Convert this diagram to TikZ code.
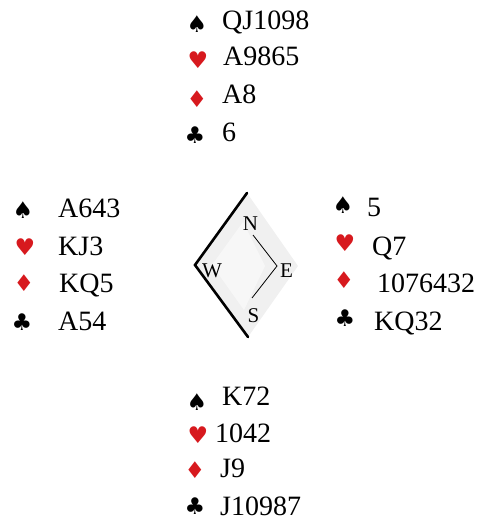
\documentclass[tikz,border=0pt]{standalone}
\usepackage{fontspec}
\setmainfont{Liberation Serif}
\newfontfamily\suitfont{DejaVu Sans}
\definecolor{suitred}{RGB}{215,25,30}
\begin{document}
\begin{tikzpicture}[x=1pt,y=-1pt,
  card/.style={anchor=base west,inner sep=0pt,font=\fontsize{28}{30}\selectfont},
  suit/.style={anchor=center,inner sep=0pt,font=\suitfont\fontsize{23}{24}\selectfont},
  blacksuit/.style={suit,text=black},
  redsuit/.style={suit,text=suitred},
  compassletter/.style={anchor=base,inner sep=0pt,font=\fontsize{21}{22}\selectfont},
  thickedge/.style={line width=2.6pt,line cap=round,line join=miter},
  thinedge/.style={line width=0.8pt}]
\useasboundingbox (0,0) rectangle (485,521);
% compass
\coordinate (otop) at (247,193);
\coordinate (oleft) at (195,265);
\coordinate (obot) at (248,337);
\coordinate (oright) at (298,266);
\coordinate (itop) at (253,235);
\coordinate (iright) at (277,266);
\coordinate (ibot) at (252,298);
\fill[black!6] (otop) -- (oleft) -- (obot) -- (oright) -- cycle;
\fill[white,opacity=0.5] (243,222) -- (212,265) -- (244,310) -- (265,266) -- cycle;
\draw[thickedge] (otop) -- (oleft) -- (obot);
\draw[thinedge] (itop) -- (iright) -- (ibot);
\node[compassletter] (cn) at (250.5,230) {N};
\node[compassletter] (ce) at (286.5,277) {E};
\node[compassletter] (cs) at (253.5,322) {S};
\node[compassletter] (cw) at (212,277) {W};
% North
\node[blacksuit] (ns) at (197,24) {♠};
\node[redsuit]   (nh) at (198,60) {♥};
\node[redsuit]   (nd) at (197,99) {♦};
\node[blacksuit] (nc) at (195,135) {♣};
\node[card] (nst) at (222,30) {QJ1098};
\node[card] (nht) at (223,66) {A9865};
\node[card] (ndt) at (222,104) {A8};
\node[card] (nct) at (222,142) {6};
% West
\node[blacksuit] (ws) at (23,210) {♠};
\node[redsuit]   (wh) at (25,247) {♥};
\node[redsuit]   (wd) at (24,283) {♦};
\node[blacksuit] (wc) at (22,322) {♣};
\node[card] (wst) at (58,218) {A643};
\node[card] (wht) at (58,255) {KJ3};
\node[card] (wdt) at (59,292) {KQ5};
\node[card] (wct) at (58,330) {A54};
% East
\node[blacksuit] (es) at (343,205) {♠};
\node[redsuit]   (eh) at (345,243) {♥};
\node[redsuit]   (ed) at (344,280) {♦};
\node[blacksuit] (ec) at (345,318) {♣};
\node[card] (est) at (367,216) {5};
\node[card] (eht) at (372,255) {Q7};
\node[card] (edt) at (377,292) {1076432};
\node[card] (ect) at (374,330) {KQ32};
% South
\node[blacksuit] (ss) at (197,402) {♠};
\node[redsuit]   (sh) at (198,435) {♥};
\node[redsuit]   (sd) at (195,470) {♦};
\node[blacksuit] (sc) at (195,506) {♣};
\node[card] (sst) at (222,405) {K72};
\node[card] (sht) at (215,442) {1042};
\node[card] (sdt) at (220,477) {J9};
\node[card] (sct) at (220,515) {J10987};
\end{tikzpicture}
\end{document}
